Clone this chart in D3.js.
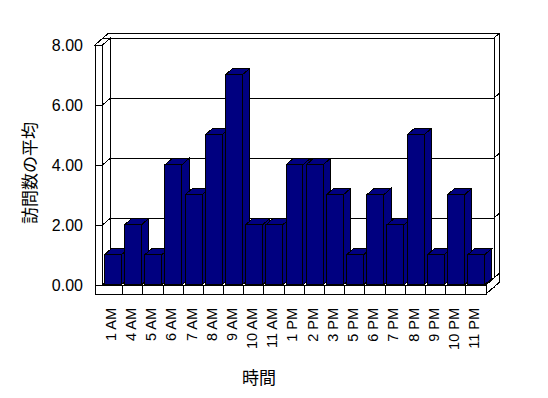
<!DOCTYPE html>
<html>
<head>
<meta charset="utf-8">
<script src="https://cdn.jsdelivr.net/npm/d3@7"></script>
<style>
  body { margin: 0; background: #fff; }
  svg { display: block; }
</style>
</head>
<body>
<svg id="chart"></svg>
<script>
const categories = ["1 AM", "4 AM", "5 AM", "6 AM", "7 AM", "8 AM", "9 AM", "10 AM", "11 AM",
  "1 PM", "2 PM", "3 PM", "5 PM", "6 PM", "7 PM", "8 PM", "9 PM", "10 PM", "11 PM"];
const visits = [1, 2, 1, 4, 3, 5, 7, 2, 2, 4, 4, 3, 1, 3, 2, 5, 1, 3, 1];
const yTicks = [0, 2, 4, 6, 8];
const xTitle = "時間";
const yTitle = "訪問数の平均";

const width = 548, height = 398;
const latin = "'Liberation Sans', Arial, sans-serif";
const cjk = "'Noto Sans CJK JP', sans-serif";

// front plane of the plot box, plus the wall / floor slabs
const wallOuter = 95, x0 = 102.5, x1 = 486, floorBottom = 294;
const DX = 8, DY = -7, backDepth = 1.65;   // oblique depth offset for z = 1

let svg = d3.select('#chart')
  .attr('width', width)
  .attr('height', height)
  .attr('shape-rendering', 'crispEdges');

let scaleX = d3.scaleBand().domain(categories).range([x0, x1]);
let scaleY = d3.scaleLinear().domain([0, 8]).range([285, 45]);

const yTop = scaleY(8), yBase = scaleY(0);
const P = (x, y, z) => [x + z * DX, y + z * DY];
const face = (pts) => pts.map(p => p.join(',')).join(' ');

const drawFace = (g, pts, fill) => g.append('polygon')
  .attr('points', face(pts))
  .attr('fill', fill)
  .attr('stroke', '#000')
  .attr('stroke-width', 1);

// walls and floor
let box = svg.append('g');
// back wall
drawFace(box, [P(wallOuter, yTop, 1), P(x1, yTop, 1), P(x1, floorBottom, 1), P(wallOuter, floorBottom, 1)], '#fff');
drawFace(box, [P(wallOuter, yTop, 1), P(x1, yTop, 1), P(x1, yTop, backDepth), P(wallOuter, yTop, backDepth)], '#fff');
drawFace(box, [P(x1, yTop, 1), P(x1, yTop, backDepth), P(x1, floorBottom, backDepth), P(x1, floorBottom, 1)], '#fff');
// left wall
drawFace(box, [P(wallOuter, yTop, 0), P(x0, yTop, 0), P(x0, yTop, 1), P(wallOuter, yTop, 1)], '#fff');
drawFace(box, [P(x0, yTop, 0), P(x0, yTop, 1), P(x0, yBase, 1), P(x0, yBase, 0)], '#fff');
drawFace(box, [P(wallOuter, yTop, 0), P(x0, yTop, 0), P(x0, floorBottom, 0), P(wallOuter, floorBottom, 0)], '#fff');
// floor
drawFace(box, [P(x0, yBase, 0), P(x1, yBase, 0), P(x1, yBase, 1), P(x0, yBase, 1)], '#fff');
drawFace(box, [P(x1, yBase, 0), P(x1, yBase, backDepth), P(x1, floorBottom, backDepth), P(x1, floorBottom, 0)], '#fff');
drawFace(box, [P(wallOuter, yBase, 0), P(x1, yBase, 0), P(x1, floorBottom, 0), P(wallOuter, floorBottom, 0)], '#fff');

// gridlines running over left wall, back wall and its right edge
svg.append('g')
  .selectAll('path')
  .data(yTicks)
  .join('path')
  .attr('fill', 'none')
  .attr('stroke', '#000')
  .attr('d', d => {
    const y = scaleY(d);
    return d3.line()([P(wallOuter, y, 0), P(x0, y, 0), P(x0, y, 1), P(x1, y, 1), P(x1, y, backDepth)]);
  });

// category ticks on floor front
svg.append('g')
  .selectAll('line')
  .data(categories.slice(1))
  .join('line')
  .attr('x1', d => scaleX(d))
  .attr('x2', d => scaleX(d))
  .attr('y1', yBase)
  .attr('y2', floorBottom)
  .attr('stroke', '#000');

// bars
const inset = scaleX.bandwidth() * 0.08, barW = scaleX.bandwidth() * 0.84;
const z0 = 0.03, z1 = 0.95;
let bars = svg.append('g')
  .selectAll('g')
  .data(categories.map((c, i) => ({ c, v: visits[i] })))
  .join('g');

bars.each(function (d) {
  const g = d3.select(this);
  const l = scaleX(d.c) + inset, r = l + barW, t = scaleY(d.v);
  drawFace(g, [P(l, t, z0), P(r, t, z0), P(r, t, z1), P(l, t, z1)], '#000080');
  drawFace(g, [P(r, t, z0), P(r, t, z1), P(r, yBase, z1), P(r, yBase, z0)], '#000080');
  drawFace(g, [P(l, t, z0), P(r, t, z0), P(r, yBase, z0), P(l, yBase, z0)], '#000080');
});

// value axis labels
let axisLeft = d3.axisLeft(scaleY).tickValues(yTicks).tickFormat(d3.format('.2f')).tickSize(0).tickPadding(0);
let gy = svg.append('g').attr('transform', 'translate(83,0)').call(axisLeft);
gy.select('.domain').remove();
gy.selectAll('text').attr('font-size', 16).attr('font-family', latin).attr('fill', '#000');

// category labels
let axisBottom = d3.axisBottom(scaleX).tickSize(0).tickPadding(0);
let gx = svg.append('g').attr('transform', `translate(0,${floorBottom})`).call(axisBottom);
gx.select('.domain').remove();
gx.selectAll('text')
  .attr('font-size', 14.5)
  .attr('font-family', latin)
  .attr('fill', '#000')
  .attr('text-anchor', 'end')
  .attr('transform', 'rotate(-90)')
  .attr('x', -14)
  .attr('y', 0)
  .attr('dy', '0.22em');

// axis titles
svg.append('text')
  .attr('x', 259).attr('y', 376)
  .attr('text-anchor', 'middle')
  .attr('dominant-baseline', 'central')
  .attr('font-size', 17).attr('font-family', cjk)
  .text(xTitle);

svg.append('text')
  .attr('transform', 'translate(28,173) rotate(-90)')
  .attr('text-anchor', 'middle')
  .attr('dominant-baseline', 'central')
  .attr('font-size', 17).attr('font-family', cjk)
  .text(yTitle);
</script>
</body>
</html>
